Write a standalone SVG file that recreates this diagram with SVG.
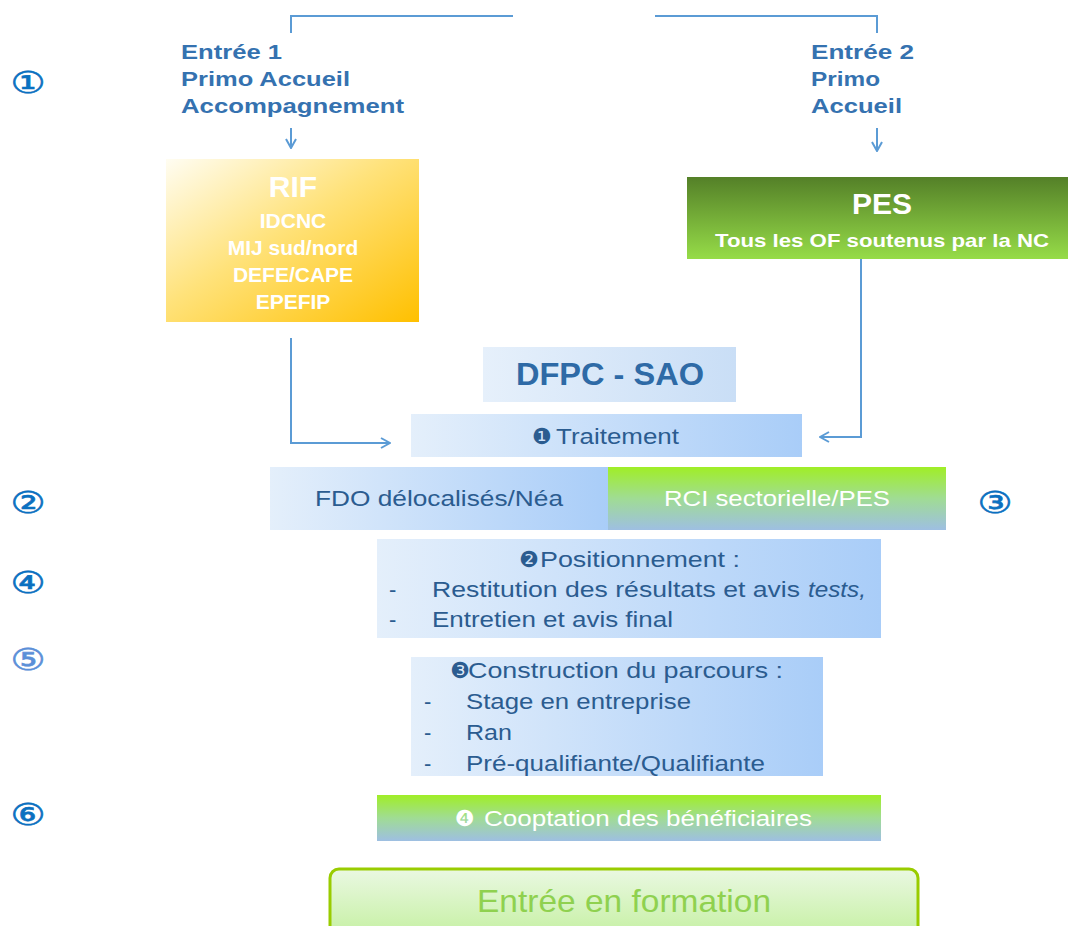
<svg xmlns="http://www.w3.org/2000/svg" width="1068" height="926" viewBox="0 0 1068 926">
<style>
.hdr{font-family:"Liberation Sans",Arial,sans-serif;font-weight:bold;font-size:21px;fill:#3572b0}
.wb{font-family:"Liberation Sans",Arial,sans-serif;font-weight:bold;fill:#ffffff}
.bt{font-family:"Liberation Sans",Arial,sans-serif;font-size:22px;fill:#2b5c90}
.wt{font-family:"Liberation Sans",Arial,sans-serif;font-size:22px;fill:#ffffff}
.dg{font-family:"DejaVu Sans",sans-serif;font-size:22px}
.num{font-family:"DejaVu Sans",sans-serif;font-size:30px;fill:#0a70c0;stroke:#0a70c0;stroke-width:0.6}
.conn{fill:none;stroke:#5b9bd5;stroke-width:2}
</style>
<defs>
<linearGradient id="gRif" x1="0" y1="0" x2="1" y2="1">
<stop offset="0" stop-color="#fffdf2"/>
<stop offset="0.45" stop-color="#ffe27a"/>
<stop offset="1" stop-color="#ffc000"/>
</linearGradient>
<linearGradient id="gPes" x1="0" y1="0" x2="0" y2="1">
<stop offset="0" stop-color="#548028"/>
<stop offset="1" stop-color="#96dc48"/>
</linearGradient>
<linearGradient id="gBlue" x1="0" y1="0" x2="1" y2="0">
<stop offset="0" stop-color="#e4effb"/>
<stop offset="1" stop-color="#a9cdf8"/>
</linearGradient>
<linearGradient id="gDfpc" x1="0" y1="0" x2="1" y2="0">
<stop offset="0" stop-color="#e6f0fb"/>
<stop offset="1" stop-color="#c9def6"/>
</linearGradient>
<linearGradient id="gGreen" x1="0" y1="0" x2="0" y2="1">
<stop offset="0" stop-color="#a0ee26"/>
<stop offset="0.5" stop-color="#a0dc94"/>
<stop offset="1" stop-color="#9ebfe2"/>
</linearGradient>
<linearGradient id="gForm" x1="0" y1="0" x2="0" y2="1">
<stop offset="0" stop-color="#eaf8e2"/>
<stop offset="1" stop-color="#c4f0a0"/>
</linearGradient>
<marker id="arr" viewBox="0 0 12 12" refX="11" refY="6" markerWidth="12" markerHeight="12" markerUnits="userSpaceOnUse" orient="auto">
<polyline points="2,1 11,6 2,11" fill="none" stroke="#5b9bd5" stroke-width="2"/>
</marker>
</defs>

<g id="connectors">
<polyline class="conn" points="291,33 291,16 513,16"/>
<polyline class="conn" points="655,16 877,16 877,33"/>
<line class="conn" x1="291" y1="128" x2="291" y2="148" marker-end="url(#arr)"/>
<line class="conn" x1="877" y1="128" x2="877" y2="151" marker-end="url(#arr)"/>
<polyline class="conn" points="291,338 291,443 390,443" marker-end="url(#arr)"/>
<polyline class="conn" points="861,259 861,437 820,437" marker-end="url(#arr)"/>
</g>

<g id="entree1">
<text class="hdr" x="181" y="59" textLength="101" lengthAdjust="spacingAndGlyphs">Entrée 1</text>
<text class="hdr" x="181" y="86" textLength="169" lengthAdjust="spacingAndGlyphs">Primo Accueil</text>
<text class="hdr" x="181" y="113" textLength="223" lengthAdjust="spacingAndGlyphs">Accompagnement</text>
</g>
<g id="entree2">
<text class="hdr" x="811" y="59" textLength="103" lengthAdjust="spacingAndGlyphs">Entrée 2</text>
<text class="hdr" x="811" y="86" textLength="69" lengthAdjust="spacingAndGlyphs">Primo</text>
<text class="hdr" x="811" y="113" textLength="91" lengthAdjust="spacingAndGlyphs">Accueil</text>
</g>

<g id="rif">
<rect x="166" y="159" width="253" height="163" fill="url(#gRif)"/>
<text class="wb" x="293" y="197" font-size="30" text-anchor="middle">RIF</text>
<text class="wb" x="293" y="228" font-size="21" text-anchor="middle">IDCNC</text>
<text class="wb" x="293" y="255" font-size="21" text-anchor="middle">MIJ sud/nord</text>
<text class="wb" x="293" y="282" font-size="21" text-anchor="middle">DEFE/CAPE</text>
<text class="wb" x="293" y="309" font-size="21" text-anchor="middle">EPEFIP</text>
</g>

<g id="pes">
<rect x="687" y="177" width="381" height="82" fill="url(#gPes)"/>
<text class="wb" x="882" y="214" font-size="30" text-anchor="middle">PES</text>
<text class="wb" x="882" y="247" font-size="19" text-anchor="middle" textLength="334" lengthAdjust="spacingAndGlyphs">Tous les OF soutenus par la NC</text>
</g>

<g id="dfpc">
<rect x="483" y="347" width="253" height="55" fill="url(#gDfpc)"/>
<text x="610" y="385" font-family="Liberation Sans, Arial, sans-serif" font-weight="bold" font-size="31" fill="#2e6aa6" text-anchor="middle" textLength="188" lengthAdjust="spacingAndGlyphs">DFPC - SAO</text>
</g>

<g id="traitement">
<rect x="411" y="414" width="391" height="43" fill="url(#gBlue)"/>
<text class="dg" x="532" y="444" fill="#2b5c90">❶</text>
<text class="bt" x="556" y="444" textLength="123" lengthAdjust="spacingAndGlyphs">Traitement</text>
</g>

<g id="fdo">
<rect x="270" y="467" width="338" height="63" fill="url(#gBlue)"/>
<text class="bt" x="315" y="506" textLength="248" lengthAdjust="spacingAndGlyphs">FDO délocalisés/Néa</text>
</g>

<g id="rci">
<rect x="608" y="467" width="338" height="63" fill="url(#gGreen)"/>
<text class="wt" x="664" y="506" textLength="226" lengthAdjust="spacingAndGlyphs">RCI sectorielle/PES</text>
</g>

<g id="positionnement">
<rect x="377" y="539" width="504" height="99" fill="url(#gBlue)"/>
<text class="dg" x="519" y="567" fill="#2b5c90" font-size="20">❷</text>
<text class="bt" x="540" y="567" textLength="200" lengthAdjust="spacingAndGlyphs">Positionnement  :</text>
<text class="bt" x="389" y="597">-</text>
<text class="bt" x="432" y="597" textLength="368" lengthAdjust="spacingAndGlyphs">Restitution des résultats et  avis</text>
<text class="bt" x="808" y="597" font-style="italic" textLength="58" lengthAdjust="spacingAndGlyphs">tests,</text>
<text class="bt" x="389" y="627">-</text>
<text class="bt" x="432" y="627" textLength="241" lengthAdjust="spacingAndGlyphs">Entretien et avis final</text>
</g>

<g id="construction">
<rect x="411" y="657" width="412" height="119" fill="url(#gBlue)"/>
<text class="dg" x="450" y="678" fill="#2b5c90" font-size="19">❸</text>
<text class="bt" x="468" y="678" textLength="315" lengthAdjust="spacingAndGlyphs">Construction du parcours :</text>
<text class="bt" x="424" y="709">-</text>
<text class="bt" x="466" y="709" textLength="225" lengthAdjust="spacingAndGlyphs">Stage en entreprise</text>
<text class="bt" x="424" y="740">-</text>
<text class="bt" x="466" y="740" textLength="46" lengthAdjust="spacingAndGlyphs">Ran</text>
<text class="bt" x="424" y="771">-</text>
<text class="bt" x="466" y="771" textLength="299" lengthAdjust="spacingAndGlyphs">Pré-qualifiante/Qualifiante</text>
</g>

<g id="cooptation">
<rect x="377" y="795" width="504" height="46" fill="url(#gGreen)"/>
<text class="dg" x="455" y="826" fill="#ffffff" font-size="20">❹</text>
<text class="wt" x="484" y="826" textLength="328" lengthAdjust="spacingAndGlyphs">Cooptation des bénéficiaires</text>
</g>

<g id="formation">
<rect x="330" y="869" width="588" height="70" rx="9" fill="url(#gForm)" stroke="#99cc00" stroke-width="3"/>
<text x="624" y="912" font-family="Liberation Sans, Arial, sans-serif" font-size="32" fill="#8fd14f" text-anchor="middle" textLength="294" lengthAdjust="spacingAndGlyphs">Entrée en formation</text>
</g>

<g id="numbers">
<text class="num" transform="translate(28,93) scale(1.3,1)" text-anchor="middle">①</text>
<text class="num" transform="translate(28,513) scale(1.3,1)" text-anchor="middle">②</text>
<text class="num" transform="translate(995,513) scale(1.3,1)" text-anchor="middle">③</text>
<text class="num" transform="translate(28,593) scale(1.3,1)" text-anchor="middle">④</text>
<text class="num" transform="translate(28,670) scale(1.3,1)" text-anchor="middle" style="fill:#5b8fd8;stroke:#5b8fd8">⑤</text>
<text class="num" transform="translate(28,825) scale(1.3,1)" text-anchor="middle">⑥</text>
</g>
</svg>
